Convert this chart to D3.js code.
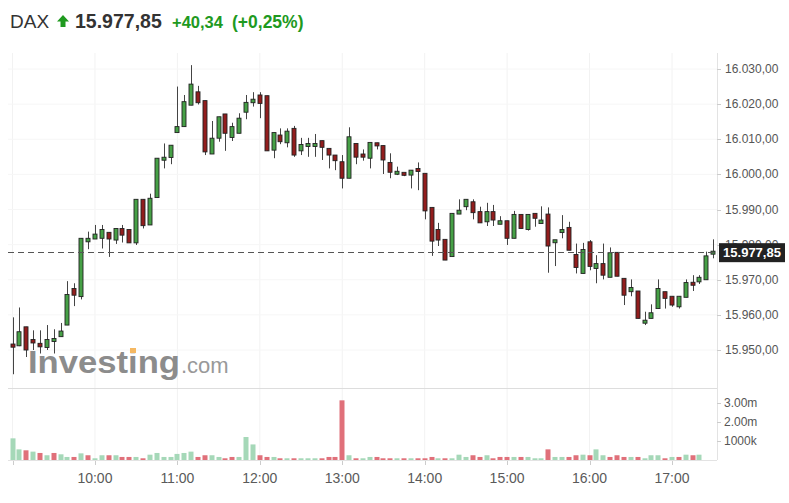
<!DOCTYPE html>
<html>
	<head>
		<meta charset="utf-8">
		<title>DAX intraday</title>
		<style>
			html, body
			{
				margin: 0;
				background: #fff;
				font-family: "Liberation Sans", Arial, sans-serif;
			}
			#chart
			{
				display: block;
			}
		</style>
	</head>
	<body>
		<svg id="chart" width="789" height="503"></svg>

		<script src="https://cdn.jsdelivr.net/npm/d3@7"></script>
		<script>
			// 5-minute candles from 09:00 to 17:30
			const startTime = new Date(2023, 0, 2, 9, 0);

			const open  = [15951.7,15951.2,15956.6,15953.0,15951.9,15950.7,15952.2,15953.8,15957.1,15967.5,
				15965.2,15980.8,15981.6,15981.8,15983.5,15981.3,15984.6,15984.3,15980.5,15992.9,
				15985.6,15993.4,16003.8,16004.8,16011.9,16013.6,16019.7,16023.5,16021.0,16005.8,
				16010.3,16017.2,16010.5,16011.7,16017.7,16020.4,16022.6,16022.4,16006.9,16011.2,
				16009.0,16013.1,16006.7,16007.7,16007.7,16009.6,16007.4,16005.5,16003.6,15998.9,
				16008.8,16005.8,16004.6,16009.0,16008.2,16003.4,15999.8,16000.3,15999.8,16001.4,
				16000.3,15990.6,15984.3,15981.5,15976.6,15988.7,15990.8,15992.2,15989.4,15986.5,
				15989.4,15985.8,15986.8,15981.8,15988.6,15984.3,15988.9,15986.0,15988.7,15980.3,
				15983.2,15984.9,15977.2,15971.8,15980.8,15973.2,15974.6,15970.7,15977.8,15970.4,
				15966.6,15966.8,15957.6,15959.0,15961.8,15966.6,15965.3,15962.3,15965.0,15969.0,
				15969.4,15970.0,15977.0];
			const high  = [15959.3,15962.1,15956.6,15955.6,15955.6,15957.1,15955.9,15957.7,15969.6,15969.0,
				15981.8,15983.7,15985.6,15985.6,15983.5,15984.6,15985.6,15984.3,15992.9,15992.9,
				15994.5,16004.6,16008.8,16008.3,16025.0,16022.6,16031.1,16025.2,16021.0,16015.2,
				16016.4,16017.2,16014.7,16017.4,16022.6,16023.4,16023.4,16022.4,16011.9,16013.1,
				16013.1,16013.8,16010.4,16010.4,16011.5,16009.6,16007.4,16005.5,16005.5,16013.4,
				16008.8,16007.1,16009.1,16009.0,16008.2,16006.0,16002.2,16000.3,16001.2,16003.4,
				16000.3,15990.6,15986.2,15981.5,15988.9,15992.9,15992.9,15992.9,15990.8,15991.9,
				15991.3,15988.1,15986.8,15989.6,15988.6,15988.6,15988.9,15990.9,15990.6,15981.1,
				15988.4,15986.5,15980.3,15980.5,15981.3,15977.0,15980.3,15979.2,15977.8,15970.4,
				15970.1,15966.8,15960.9,15963.0,15970.1,15966.6,15965.3,15965.3,15970.1,15971.3,
				15971.3,15978.0,15981.5];
			const low   = [15943.1,15951.1,15948.0,15950.0,15949.0,15950.0,15949.0,15953.8,15957.1,15962.5,
				15964.4,15978.7,15981.6,15978.9,15976.5,15980.2,15980.6,15980.5,15979.9,15984.6,
				15985.6,15993.4,16001.7,16002.9,16011.9,16013.6,16019.7,16019.9,16005.5,16005.8,
				16009.3,16006.7,16009.5,16011.7,16015.7,16019.3,16016.0,16006.7,16004.6,16008.6,
				16007.7,16005.0,16005.5,16005.0,16005.0,16004.1,16001.7,16001.2,15996.0,15998.9,
				16002.9,16003.9,16001.7,16007.1,16000.1,15998.9,15999.8,15999.5,15996.0,15995.5,
				15987.2,15976.8,15979.6,15975.6,15976.6,15988.7,15989.8,15987.2,15986.2,15985.3,
				15985.3,15985.8,15979.9,15981.8,15984.6,15984.0,15985.1,15986.0,15972.0,15973.9,
				15981.8,15978.4,15971.8,15971.8,15972.7,15969.0,15970.1,15970.7,15971.0,15962.8,
				15965.3,15959.0,15957.1,15959.0,15961.8,15961.8,15962.3,15961.8,15965.0,15966.8,
				15968.8,15970.0,15976.1];
			const close = [15950.8,15955.2,15950.0,15952.0,15950.9,15953.0,15953.0,15955.4,15965.8,15965.6,
				15981.8,15981.8,15983.0,15984.3,15981.6,15984.6,15982.7,15980.5,15992.9,15985.4,
				15993.2,16004.6,16004.6,16008.3,16013.6,16020.7,16025.7,16020.4,16006.4,16010.3,
				16016.4,16011.7,16013.6,16016.0,16020.5,16021.4,16020.2,16006.7,16011.9,16009.3,
				16012.3,16005.5,16008.5,16008.5,16008.5,16007.7,16005.5,16003.9,15998.9,16010.7,
				16004.9,16004.9,16009.1,16008.1,16004.1,16000.6,16000.6,15999.5,16001.2,16000.6,
				15989.6,15981.0,15981.3,15975.6,15988.9,15989.8,15992.9,15989.1,15986.2,15989.4,
				15987.0,15986.8,15981.8,15988.6,15984.6,15988.6,15987.5,15987.0,15979.6,15981.1,
				15984.0,15978.4,15973.5,15978.6,15973.8,15974.6,15971.3,15977.7,15971.0,15965.6,
				15967.8,15959.0,15958.2,15960.6,15967.5,15964.7,15962.8,15965.3,15969.2,15968.2,
				15970.7,15976.8,15977.85];

			// volume in millions, with bar colour direction (u = green, d = red)
			const volume = [1.14,0.56,0.51,0.44,0.37,0.25,0.37,0.30,0.16,0.16,
				0.35,0.25,0.09,0.25,0.25,0.25,0.16,0.16,0.16,0.09,
				0.28,0.37,0.16,0.16,0.32,0.37,0.44,0.16,0.25,0.25,
				0.16,0.09,0.16,0.16,1.21,0.82,0.25,0.16,0.16,0.09,
				0.09,0.09,0.09,0.09,0.09,0.09,0.16,0.16,3.14,0.25,
				0.09,0.09,0.16,0.16,0.09,0.09,0.09,0.09,0.09,0.09,
				0.09,0.16,0.09,0.09,0.09,0.28,0.16,0.25,0.16,0.25,
				0.09,0.16,0.16,0.16,0.16,0.16,0.09,0.09,0.56,0.16,
				0.16,0.16,0.25,0.28,0.25,0.56,0.25,0.16,0.25,0.16,
				0.16,0.16,0.09,0.25,0.25,0.09,0.16,0.16,0.28,0.25,
				0.28];
			const volumeDir = [
				"uudududuud", "uduududdud", "uuuuuuuddu", "udduuuddud", "uduuuddddu",
				"duudddudud", "dduduuuddu", "ddduduuudu", "udduduuddd", "uduuududud", "u"
			].join("").split("");

			const priceTicks  = [15950, 15960, 15970, 15980, 15990, 16000, 16010, 16020, 16030];
			const volumeTicks = [1, 2, 3];
			const volumeTickLabels = ["1000k", "2.00m", "3.00m"];

			const lastPrice = 15977.85;
			const header = { name: "DAX", price: "15.977,85", change: "+40,34", changePct: "(+0,25%)" };

			const de = d3.formatLocale({ decimal: ",", thousands: ".", grouping: [3], currency: ["", "€"] });
			const fmtPrice = de.format(",.2f");

			let svg = d3.select("#chart");

			let left = 8, right = 717;
			let plotTop = 53, sepY = 388, volBase = 460;

			let x = d3.scaleTime()
				.domain([new Date(2023, 0, 2, 9, 0), new Date(2023, 0, 2, 17, 0)])
				.range([12.5, 672]);

			let y = d3.scaleLinear()
				.domain([15950, 16030])
				.range([350, 69]);

			let yVol = d3.scaleLinear()
				.domain([0, 3])
				.range([volBase, 403]);

			let timeOf = (i) => d3.timeMinute.offset(startTime, 5 * i);
			let hours = d3.timeHour.range(new Date(2023, 0, 2, 9, 0), new Date(2023, 0, 2, 17, 1));

			// faint grid
			let grid = svg.append("g");
			grid.selectAll(".vgrid")
				.data(hours)
				.enter().append("line")
				.attr("x1", d => x(d)).attr("x2", d => x(d))
				.attr("y1", plotTop).attr("y2", volBase)
				.attr("stroke", "#f2f2f2");
			grid.selectAll(".hgrid")
				.data(priceTicks)
				.enter().append("line")
				.attr("x1", left).attr("x2", right)
				.attr("y1", d => y(d)).attr("y2", d => y(d))
				.attr("stroke", "#f6f6f6");

			// watermark logo
			let logo = svg.append("g").attr("fill", "#8c8c8c");
			logo.append("text")
				.attr("x", 28).attr("y", 373)
				.attr("font-size", 32).attr("font-weight", "bold")
				.attr("textLength", 152).attr("lengthAdjust", "spacingAndGlyphs")
				.text("Investing");
			logo.append("text")
				.attr("x", 181).attr("y", 373)
				.attr("font-size", 22).attr("fill", "#999")
				.text(".com");
			logo.append("rect")
				.attr("x", 130).attr("y", 348).attr("width", 6).attr("height", 5)
				.attr("fill", "#f5b862");

			// candles
			let bodyW = 5;
			let candles = svg.append("g").selectAll("g")
				.data(open.map((o, i) => ({ t: timeOf(i), o: o, h: high[i], l: low[i], c: close[i] })))
				.enter().append("g");

			candles.append("line")
				.attr("x1", d => Math.round(x(d.t)) + 0.5).attr("x2", d => Math.round(x(d.t)) + 0.5)
				.attr("y1", d => y(d.h)).attr("y2", d => y(d.l))
				.attr("stroke", "#444");

			candles.append("rect")
				.attr("x", d => Math.round(x(d.t)) - 2)
				.attr("y", d => Math.min(y(d.o), y(d.c)) - (Math.abs(y(d.o) - y(d.c)) < 3 ? 1 : 0))
				.attr("width", bodyW - 1)
				.attr("height", d => Math.max(3, Math.abs(y(d.o) - y(d.c))))
				.attr("fill", d => d.c >= d.o ? "#46a046" : "#921d1d")
				.attr("stroke", "#222")
				.attr("stroke-width", 0.9);

			// volume bars
			svg.append("g").selectAll("rect")
				.data(volume)
				.enter().append("rect")
				.attr("x", (d, i) => Math.round(x(timeOf(i))) - 2.5)
				.attr("y", d => yVol(d))
				.attr("width", bodyW)
				.attr("height", d => volBase - yVol(d))
				.attr("fill", (d, i) => volumeDir[i] == "u" ? "#a5d8b8" : "#e0707a");

			// frame lines
			svg.append("line")
				.attr("x1", left).attr("x2", right)
				.attr("y1", sepY + 0.5).attr("y2", sepY + 0.5)
				.attr("stroke", "#ddd");
			svg.append("line")
				.attr("x1", left).attr("x2", right)
				.attr("y1", volBase + 0.5).attr("y2", volBase + 0.5)
				.attr("stroke", "#e3e3e3");
			svg.append("line")
				.attr("x1", right + 0.5).attr("x2", right + 0.5)
				.attr("y1", plotTop).attr("y2", volBase)
				.attr("stroke", "#e3e3e3");

			// price axis
			let yAxis = svg.append("g").attr("font-size", 12).attr("fill", "#555");
			yAxis.selectAll("line")
				.data(priceTicks)
				.enter().append("line")
				.attr("x1", right).attr("x2", right + 4)
				.attr("y1", d => Math.round(y(d)) + 0.5).attr("y2", d => Math.round(y(d)) + 0.5)
				.attr("stroke", "#ccc");
			yAxis.selectAll("text")
				.data(priceTicks)
				.enter().append("text")
				.attr("x", 725).attr("y", d => y(d) + 4)
				.text(d => fmtPrice(d));

			// volume axis
			let vAxis = svg.append("g").attr("font-size", 12).attr("fill", "#555");
			vAxis.selectAll("line")
				.data(volumeTicks)
				.enter().append("line")
				.attr("x1", right).attr("x2", right + 4)
				.attr("y1", d => Math.round(yVol(d)) + 0.5).attr("y2", d => Math.round(yVol(d)) + 0.5)
				.attr("stroke", "#ccc");
			vAxis.selectAll("text")
				.data(volumeTicks)
				.enter().append("text")
				.attr("x", 724).attr("y", d => yVol(d) + 4)
				.text((d, i) => volumeTickLabels[i]);

			// time axis
			let xAxis = svg.append("g");
			xAxis.selectAll("line")
				.data(hours)
				.enter().append("line")
				.attr("x1", d => Math.round(x(d)) + 0.5).attr("x2", d => Math.round(x(d)) + 0.5)
				.attr("y1", volBase + 1).attr("y2", volBase + 5)
				.attr("stroke", "#ccc");
			xAxis.selectAll("text")
				.data(hours.slice(1))
				.enter().append("text")
				.attr("x", d => x(d)).attr("y", 483)
				.attr("text-anchor", "middle")
				.attr("font-size", 14).attr("fill", "#5a5a5a")
				.text(d => d3.timeFormat("%H:%M")(d));

			// last price line and tag
			svg.append("line")
				.attr("x1", left).attr("x2", right)
				.attr("y1", Math.round(y(lastPrice)) + 0.5).attr("y2", Math.round(y(lastPrice)) + 0.5)
				.attr("stroke", "#555")
				.attr("stroke-dasharray", "6,4");
			svg.append("rect")
				.attr("x", 719).attr("y", y(lastPrice) - 9)
				.attr("width", 66).attr("height", 19)
				.attr("fill", "#222");
			svg.append("text")
				.attr("x", 752).attr("y", y(lastPrice) + 5)
				.attr("text-anchor", "middle")
				.attr("font-size", 13).attr("font-weight", "bold").attr("fill", "#fff")
				.text(fmtPrice(lastPrice));

			// header
			let head = svg.append("g");
			head.append("text")
				.attr("x", 10).attr("y", 28)
				.attr("font-size", 19).attr("fill", "#333")
				.text(header.name);
			head.append("path")
				.attr("d", "M63 15 L69 21.5 L65.5 21.5 L65.5 27 L60.5 27 L60.5 21.5 L57 21.5 Z")
				.attr("fill", "#1f9a1f");
			head.append("text")
				.attr("x", 75).attr("y", 28)
				.attr("font-size", 19.5).attr("font-weight", "bold").attr("fill", "#333")
				.text(header.price);
			head.append("text")
				.attr("x", 172).attr("y", 28)
				.attr("font-size", 16.5).attr("font-weight", "bold").attr("fill", "#1f9a1f")
				.text(header.change);
			head.append("text")
				.attr("x", 232).attr("y", 28)
				.attr("font-size", 17.5).attr("font-weight", "bold").attr("fill", "#1f9a1f")
				.text(header.changePct);
		</script>
	</body>
</html>
